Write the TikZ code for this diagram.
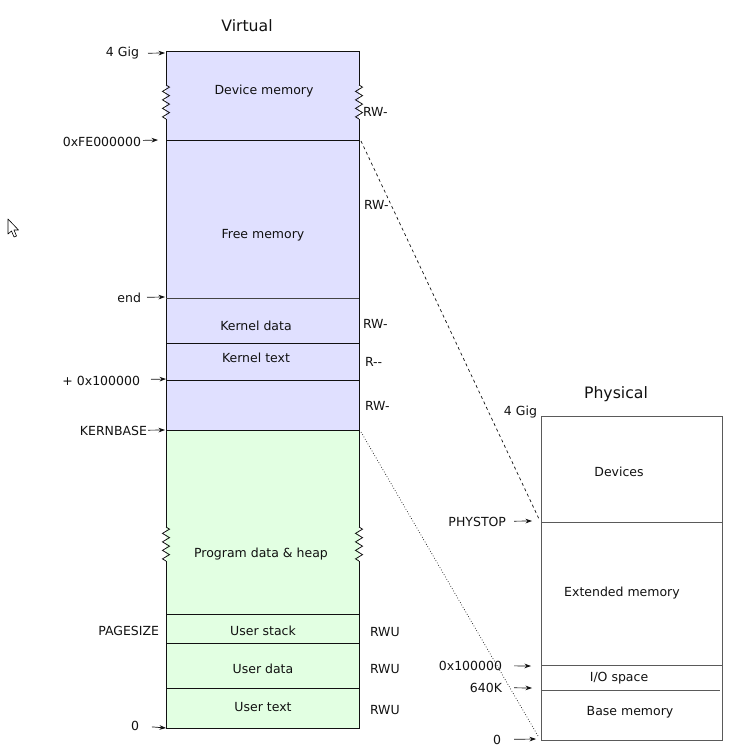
\documentclass[tikz,border=0pt]{standalone}
\usepackage{fontspec}
\setmainfont{DejaVu Sans}
\usetikzlibrary{positioning,calc,arrows.meta,decorations.pathmorphing}
\definecolor{kern}{HTML}{E0E0FF}
\definecolor{user}{HTML}{E2FFE2}
\definecolor{ink}{HTML}{111111}
\definecolor{inkii}{HTML}{444444}
\definecolor{phys}{HTML}{5A5A5A}
\tikzset{
  edge/.style   = {draw=ink, line width=0.8pt},
  pedge/.style  = {draw=phys, line width=0.9pt},
  zig/.style    = {decorate, decoration={zigzag, segment length=8.5pt, amplitude=3.5pt}},
  lab/.style    = {font=\fontsize{12.5}{14}\selectfont\color{ink}, inner sep=0pt, outer sep=0pt, yshift=-1.5pt},
  rlab/.style   = {lab, anchor=west},
  llab/.style   = {lab, anchor=east},
  title/.style  = {font=\fontsize{15.7}{18}\selectfont\color{ink}, inner sep=0pt, outer sep=0pt, yshift=-1pt},
  ptr/.style    = {-{Stealth[length=6.5pt,width=4.6pt]}, draw=ink, line width=0.7pt},
  map/.style    = {draw=ink, line width=0.7pt},
}

\begin{document}
\begin{tikzpicture}[x=1pt,y=-1pt]
\path[use as bounding box] (0,0) rectangle (754,752);

% ---- pointer ------------------------------------------------------------
\draw[fill=white, line width=0.6pt, line join=round]
  (8,219) -- (8,234) -- (11.5,231) -- (14,237) -- (16.5,236) -- (14,230) -- (18.5,230) -- cycle;

% ---- virtual ------------------------------------------------------------
\node[title] (vtitle) at (247,25) {Virtual};
\fill[kern] (166,51) rectangle (359,430);
\fill[user] (166,430) rectangle (359,728);

\draw[edge] (166,51) -- (359,51);
\draw[edge] (166,51) -- (166,85);
\draw[edge, zig] (166,85) -- (166,119);
\draw[edge] (166,119) -- (166,527);
\draw[edge, zig] (166,527) -- (166,561);
\draw[edge] (166,561) -- (166,728) -- (359,728) -- (359,561);
\draw[edge, zig] (359,561) -- (359,527);
\draw[edge] (359,527) -- (359,119);
\draw[edge, zig] (359,119) -- (359,85);
\draw[edge] (359,85) -- (359,51);

\foreach \y in {140,343,380,430,614,643,688}{ \draw[edge] (166,\y) -- (359,\y); }
\draw[edge, draw=inkii] (166,298) -- (359,298);

\node[lab] (vdev)  at (264,90)  {Device memory};
\node[lab] (vfree) at (263,234) {Free memory};
\node[lab] (vkdat) at (256,324) {Kernel data};
\node[lab] (vktxt) at (256,356) {Kernel text};
\node[lab] (vheap) at (261,553) {Program data \& heap};
\node[lab] (vstk)  at (263,629) {User stack};
\node[lab] (vudat) at (263,667) {User data};
\node[lab] (vutxt) at (263,706) {User text};

% permissions
\node[rlab] (pdev)  at (363,110) {RW-};
\node[rlab] (pfree) at (364,203) {RW-};
\node[rlab] (pkdat) at (363,322) {RW-};
\node[rlab] (pktxt) at (365,360) {R{-}{-}};
\node[rlab] (pkbas) at (365,404) {RW-};
\node[rlab] (pstk)  at (370,631) {RWU};
\node[rlab] (pudat) at (370,668) {RWU};
\node[rlab] (putxt) at (370,709) {RWU};

% addresses
\coordinate (agig)  at (165,53);
\coordinate (afe)   at (158,140);
\coordinate (aend)  at (165,297);
\coordinate (ameg)  at (166,379);
\coordinate (akb)   at (165,430);
\coordinate (azero) at (166,728);

\node[llab] (lgig)  at (139,52)  {4 Gig};
\node[llab] (lfe)   at (141,140) {0xFE000000};
\node[llab] (lend)  at (141,296) {end};
\node[llab] (lmeg)  at (140,379) {+ 0x100000};
\node[llab] (lkb)   at (147,429) {KERNBASE};
\node[llab] (lpage) at (159,629) {PAGESIZE};
\node[llab] (lzero) at (139,724) {0};

\draw[ptr, shorten <=9pt]  (lgig)  -- (agig);
\draw[ptr, shorten <=2pt]  (lfe)   -- (afe);
\draw[ptr, shorten <=6pt]  (lend)  -- (aend);
\draw[ptr, shorten <=11pt] (lmeg)  -- (ameg);
\draw[ptr, shorten <=1pt]  (lkb)   -- (akb);
\draw[ptr, shorten <=13pt] (lzero) -- (azero);

% ---- physical -----------------------------------------------------------
\node[title] (ptitle) at (616,393) {Physical};
\draw[pedge] (541,416) rectangle (722,740);
\draw[pedge] (541,522) -- (722,522);
\draw[pedge] (541,665) -- (722,665);
\draw[pedge] (541,690) -- (720,690);

\node[lab] (pdevs) at (619,470) {Devices};
\node[lab] (pext)  at (622,592) {Extended memory};
\node[lab] (pio)   at (619,677) {I/O space};
\node[lab] (pbase) at (630,711) {Base memory};

\coordinate (bstop) at (532,521);
\coordinate (bmeg)  at (531,666);
\coordinate (b640)  at (532,688);
\coordinate (bzero) at (536,739);

\node[llab] (qgig)  at (537,411) {4 Gig};
\node[llab] (qstop) at (506,520) {PHYSTOP};
\node[llab] (qmeg)  at (502,664) {0x100000};
\node[llab] (q640)  at (502,686) {640K};
\node[llab] (qzero) at (501,738) {0};

\draw[ptr, shorten <=8pt]  (qstop) -- (bstop);
\draw[ptr, shorten <=12pt] (qmeg)  -- (bmeg);
\draw[ptr, shorten <=12pt] (q640)  -- (b640);
\draw[ptr, shorten <=13pt] (qzero) -- (bzero);

% ---- mapping ------------------------------------------------------------
\coordinate (mtop) at (361,141);
\coordinate (mbot) at (361,432);
\coordinate (ntop) at (539,519);
\coordinate (nbot) at (538,736);
\draw[map, dash pattern=on 3pt off 3pt] (mtop) -- (ntop);
\draw[map, dotted] (mbot) -- (nbot);

\end{tikzpicture}
\end{document}
